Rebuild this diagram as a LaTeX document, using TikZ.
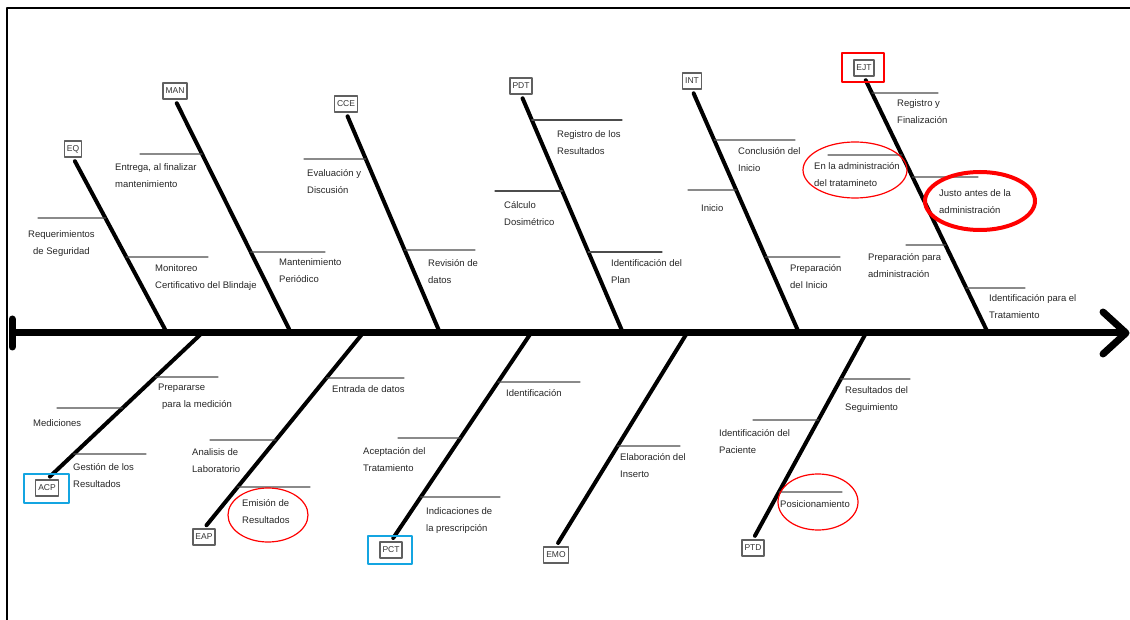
\documentclass[tikz,border=0pt]{standalone}
\usepackage{fontspec}
\setmainfont{Liberation Sans}
\definecolor{markblue}{RGB}{20,165,225}
\begin{document}
\begin{tikzpicture}[x=1pt,y=-1pt,line join=round,line cap=round,font=\fontsize{9.5}{17}\selectfont,
	bone/.style={line width=4pt},
	rib/.style={line width=1.3pt,black!70},
	lbl/.style={anchor=north west,inner sep=0pt,align=left,text=black!85},
	cat/.style={draw=gray!75!black,line width=1.3pt,fill=white,inner xsep=2.5pt,inner ysep=0pt,minimum height=16pt,font=\fontsize{8.5}{9}\selectfont,text=black!80},
	hot/.style={red,line width=1.2pt},
	frame/.style={line width=2.5pt}]
	\useasboundingbox (0,0) rectangle (1130,620);
	\draw[line width=2pt] (7,620)--(7,8)--(1130,8);
	% spine
	\coordinate (tail) at (12,333);
	\coordinate (head) at (1126,333);
	\draw[line width=7pt,line cap=butt] (tail)--(head);
	\draw[line width=7pt] (12,319)--(12,347);
	\draw[line width=7pt] (1103,312)--(head)--(1103,354);
	% top categories
	\node[cat] (eq) at (73,149) {EQ};
	\node[cat] (man) at (175,91) {MAN};
	\node[cat] (cce) at (346,104) {CCE};
	\node[cat] (pdt) at (521,86) {PDT};
	\node[cat] (int) at (692,81) {INT};
	\node[cat] (ejt) at (864,68) {EJT};
	\coordinate (eqS) at (167,333);
	\coordinate (manS) at (291,333);
	\coordinate (cceS) at (440,333);
	\coordinate (pdtS) at (623,333);
	\coordinate (intS) at (799,333);
	\coordinate (ejtS) at (988,333);
	\draw[bone,shorten <=4pt] (eq.south)--(eqS);
	\draw[bone,shorten <=4pt] (man.south)--(manS);
	\draw[bone,shorten <=4pt] (cce.south)--(cceS);
	\draw[bone,shorten <=4pt] (pdt.south)--(pdtS);
	\draw[bone,shorten <=4pt] (int.south)--(intS);
	\draw[bone,shorten <=4pt] (ejt.south)--(ejtS);
	% bottom categories
	\node[cat] (acp) at (47,488) {ACP};
	\node[cat] (eap) at (204,537) {EAP};
	\node[cat] (pct) at (391,550) {PCT};
	\node[cat] (emo) at (556,555) {EMO};
	\node[cat] (ptd) at (753,548) {PTD};
	\coordinate (acpS) at (202,333);
	\coordinate (eapS) at (363,333);
	\coordinate (pctS) at (531,333);
	\coordinate (emoS) at (687,333);
	\coordinate (ptdS) at (866,333);
	\draw[bone,shorten >=4pt] (acpS)--(acp.north);
	\draw[bone,shorten >=4pt] (eapS)--(eap.north);
	\draw[bone,shorten >=4pt] (pctS)--(pct.north);
	\draw[bone,shorten >=4pt] (emoS)--(emo.north);
	\draw[bone,shorten >=4pt] (ptdS)--(ptd.north);
	% EQ
	\draw[rib] (38,218)--(intersection of eq.south--eqS and 0,218--10,218);
	\draw[rib] (intersection of eq.south--eqS and 0,257--10,257)--(208,257);
	\node[lbl,align=center] (reqS) at (28,230) {Requerimientos\\de Seguridad};
	\node[lbl] (monB) at (155,264) {Monitoreo\\Certificativo del Blindaje};
	% MAN
	\draw[rib] (140,154)--(intersection of man.south--manS and 0,154--10,154);
	\draw[rib] (intersection of man.south--manS and 0,252--10,252)--(325,252);
	\node[lbl] (entM) at (115,163) {Entrega, al finalizar\\mantenimiento};
	\node[lbl] (manP) at (279,258) {Mantenimiento\\Periódico};
	% CCE
	\draw[rib] (304,159)--(intersection of cce.south--cceS and 0,159--10,159);
	\draw[rib] (intersection of cce.south--cceS and 0,250--10,250)--(475,250);
	\node[lbl] (evaD) at (307,169) {Evaluación y\\Discusión};
	\node[lbl] (revD) at (428,259) {Revisión de\\datos};
	% PDT
	\draw[rib] (intersection of pdt.south--pdtS and 0,120--10,120)--(622,120);
	\draw[rib] (495,191)--(intersection of pdt.south--pdtS and 0,191--10,191);
	\draw[rib] (intersection of pdt.south--pdtS and 0,252--10,252)--(662,252);
	\node[lbl] (regR) at (557,130) {Registro de los\\Resultados};
	\node[lbl] (calD) at (504,201) {Cálculo\\Dosimétrico};
	\node[lbl] (ideP) at (611,259) {Identificación del\\Plan};
	% INT
	\draw[rib] (intersection of int.south--intS and 0,140--10,140)--(795,140);
	\draw[rib] (688,190)--(intersection of int.south--intS and 0,190--10,190);
	\draw[rib] (intersection of int.south--intS and 0,257--10,257)--(840,257);
	\node[lbl] (conI) at (738,147) {Conclusión del\\Inicio};
	\node[lbl] (ini) at (701,204) {Inicio};
	\node[lbl] (preI) at (790,264) {Preparación\\del Inicio};
	% EJT
	\draw[rib] (intersection of ejt.south--ejtS and 0,93--10,93)--(938,93);
	\draw[rib] (828,155)--(intersection of ejt.south--ejtS and 0,155--10,155);
	\draw[rib] (intersection of ejt.south--ejtS and 0,177--10,177)--(978,177);
	\draw[rib] (906,245)--(intersection of ejt.south--ejtS and 0,245--10,245);
	\draw[rib] (intersection of ejt.south--ejtS and 0,288--10,288)--(1025,288);
	\node[lbl] (regF) at (897,99) {Registro y\\Finalización};
	\node[lbl] (enAd) at (814,162) {En la administración\\del tratamineto};
	\node[lbl] (jusA) at (939,189) {Justo antes de la\\administración};
	\node[lbl] (prepA) at (868,253) {Preparación para\\administración};
	\node[lbl] (ideT) at (989,294) {Identificación para el\\Tratamiento};
	% ACP
	\draw[rib] (intersection of acpS--acp.north and 0,377--10,377)--(218,377);
	\draw[rib] (57,408)--(intersection of acpS--acp.north and 0,408--10,408);
	\draw[rib] (intersection of acpS--acp.north and 0,454--10,454)--(146,454);
	\node[lbl] (prepM) at (158,384) {Prepararse\\\hspace*{4pt}para la medición};
	\node[lbl] (med) at (33,419) {Mediciones};
	\node[lbl] (gesR) at (73,463) {Gestión de los\\Resultados};
	% EAP
	\draw[rib] (intersection of eapS--eap.north and 0,378--10,378)--(404,378);
	\draw[rib] (210,440)--(intersection of eapS--eap.north and 0,440--10,440);
	\draw[rib] (intersection of eapS--eap.north and 0,487--10,487)--(310,487);
	\node[lbl] (entD) at (332,385) {Entrada de datos};
	\node[lbl] (anaL) at (192,448) {Analisis de\\Laboratorio};
	\node[lbl] (emiR) at (242,499) {Emisión de\\Resultados};
	% PCT
	\draw[rib] (intersection of pctS--pct.north and 0,382--10,382)--(580,382);
	\draw[rib] (398,438)--(intersection of pctS--pct.north and 0,438--10,438);
	\draw[rib] (intersection of pctS--pct.north and 0,497--10,497)--(500,497);
	\node[lbl] (ident) at (506,389) {Identificación};
	\node[lbl] (aceT) at (363,447) {Aceptación del\\Tratamiento};
	\node[lbl] (indP) at (426,507) {Indicaciones de\\la prescripción};
	% EMO
	\draw[rib] (intersection of emoS--emo.north and 0,446--10,446)--(680,446);
	\node[lbl] (elaI) at (620,453) {Elaboración del\\Inserto};
	% PTD
	\draw[rib] (intersection of ptdS--ptd.north and 0,379--10,379)--(910,379);
	\draw[rib] (753,420)--(intersection of ptdS--ptd.north and 0,420--10,420);
	\draw[rib] (intersection of ptdS--ptd.north and 0,492--10,492)--(842,492);
	\node[lbl] (resS) at (845,386) {Resultados del\\Seguimiento};
	\node[lbl] (ideP2) at (719,429) {Identificación del\\Paciente};
	\node[lbl] (pos) at (780,500) {Posicionamiento};
	% highlights
	\draw[hot] (855,170) ellipse (52 and 28);
	\draw[hot,line width=4pt] (980,201) ellipse (55 and 29);
	\draw[hot] (268,515) ellipse (40 and 27);
	\draw[hot] (818,502) ellipse (40 and 28);
	\draw[frame,red] (842,53) rectangle (884,82);
	\draw[frame,markblue] (24,474) rectangle (69,503);
	\draw[frame,markblue] (368,536) rectangle (412,564);
\end{tikzpicture}
\end{document}
